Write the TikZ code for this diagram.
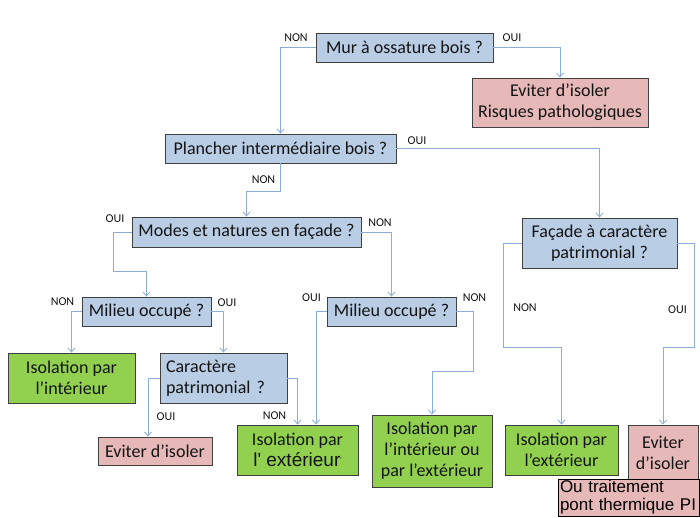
\documentclass[tikz,border=0pt]{standalone}
\usepackage{fontspec}
\setmainfont{Carlito}
\newfontfamily\arialf{Liberation Sans}
\usetikzlibrary{arrows.meta}
\definecolor{bluebox}{RGB}{185,205,229}
\definecolor{pinkbox}{RGB}{230,185,184}
\definecolor{greenbox}{RGB}{146,208,80}
\definecolor{linkcol}{RGB}{140,172,218}
\definecolor{edgecol}{RGB}{64,64,64}
\definecolor{txtcol}{RGB}{20,20,20}
\begin{document}
\begin{tikzpicture}[x=1pt,y=-1pt,
  box/.style={draw=edgecol, line width=0.9pt, inner sep=0pt, align=center,
    font=\fontsize{18}{21}\selectfont, text=txtcol},
  qbox/.style={box, fill=bluebox},
  redbox/.style={box, fill=pinkbox},
  grbox/.style={box, fill=greenbox},
  lab/.style={font=\fontsize{12}{14}\selectfont, inner sep=0pt, text=txtcol},
  link/.style={draw=linkcol, line width=0.8pt,
    -{Straight Barb[length=4pt,width=7pt]}}]
\fill[white] (0,0) rectangle (700,518);
\useasboundingbox (0,0) rectangle (700,518);

% question boxes
\node[qbox, minimum width=177pt, minimum height=29pt] (mur) at (404.5,47.5) {Mur à ossature bois ?};
\node[qbox, minimum width=231pt, minimum height=29pt] (plancher) at (280.5,148.5) {Plancher intermédiaire bois ?};
\node[qbox, minimum width=229pt, minimum height=30pt] (modes) at (246.5,232) {Modes et natures en façade ?};
\node[qbox, minimum width=155pt, minimum height=50pt] (facade) at (599.5,243) {Façade à caractère\\patrimonial ?};
\node[qbox, minimum width=129pt, minimum height=29pt] (milieu1) at (146.5,311.5) {Milieu occupé ?};
\node[qbox, minimum width=129pt, minimum height=29pt] (milieu2) at (391.5,311.5) {Milieu occupé ?};
\node[qbox, inner xsep=6pt, text width=115pt, align=left, minimum height=50pt] (caract) at (223.5,378) {Caractère\\patrimonial ?};

% results
\node[redbox, minimum width=176pt, minimum height=49pt] (evit1) at (560,102.5) {Eviter d’isoler\\Risques pathologiques};
\node[grbox, minimum width=127pt, minimum height=50pt] (isoint) at (71.5,378) {Isolation par\\l’intérieur};
\node[redbox, minimum width=114pt, minimum height=28pt] (evit3) at (155,451) {Eviter d’isoler};
\node[grbox, minimum width=121pt, minimum height=50pt] (ext1) at (297.5,450) {Isolation par\\{\arialf\fontsize{19}{21}\selectfont l' extérieur{\fontsize{7}{7}\selectfont\raisebox{4pt}{'}}}};
\node[grbox, minimum width=120pt, minimum height=72pt] (intext) at (432,451) {Isolation par\\l’intérieur ou\\par l’extérieur};
\node[grbox, minimum width=113pt, minimum height=50pt] (ext3) at (561.5,450) {Isolation par\\l’extérieur};
\node[redbox, minimum width=70pt, minimum height=56pt] (evit2) at (663,453) {Eviter\\d’isoler};
\node[redbox, draw=black, inner xsep=2pt, text width=137pt, align=left, minimum height=37pt,
  font=\arialf\fontsize{17}{18}\selectfont, text=black] (outr) at (628.5,497.5) {Ou traitement\\pont thermique PI};

% labels
\node[lab] (l1) at (296,37.5) {NON};
\node[lab] (l2) at (512,38) {OUI};
\node[lab] (l3) at (417,140.5) {OUI};
\node[lab] (l4) at (263.5,180) {NON};
\node[lab] (l5) at (115,219) {OUI};
\node[lab] (l6) at (380,222.5) {NON};
\node[lab] (l7) at (62.5,301.5) {NON};
\node[lab] (l8) at (227,302.5) {OUI};
\node[lab] (l9) at (311.5,297.5) {OUI};
\node[lab] (l10) at (474.5,297.5) {NON};
\node[lab] (l11) at (525,307.5) {NON};
\node[lab] (l12) at (677.5,310) {OUI};
\node[lab] (l13) at (166,416.5) {OUI};
\node[lab] (l14) at (274.5,416) {NON};

% connectors
\draw[link] (mur.east) -| (evit1.north);
\draw[link] (mur.west) -| (plancher.north);
\draw[link] (plancher.east) -| (facade.north);
\draw[link] (plancher.south) -- ++(0,28) -| (modes.north);
\draw[link] (modes.west) -- ++(-18,0) -- ++(0,39) -| (milieu1.north);
\draw[link] (modes.east) -| (milieu2.north);
\draw[link] (milieu1.west) -| (isoint.north);
\draw[link] (milieu1.east) -| (caract.north);
\draw[link] (caract.west) -| ([xshift=-7pt]evit3.north);
\draw[link] (caract.east) -| (ext1.north);
\draw[link] (milieu2.west) -| ([xshift=18.5pt]ext1.north);
\draw[link] (milieu2.east) -- ++(17,0) -- ++(0,59.5) -| (intext.north);
\draw[link] (facade.west) -- ++(-18,0) -- ++(0,104) -| (ext3.north);
\draw[link] (facade.east) -- ++(17,0) -- ++(0,104) -| (evit2.north);
\end{tikzpicture}
\end{document}
